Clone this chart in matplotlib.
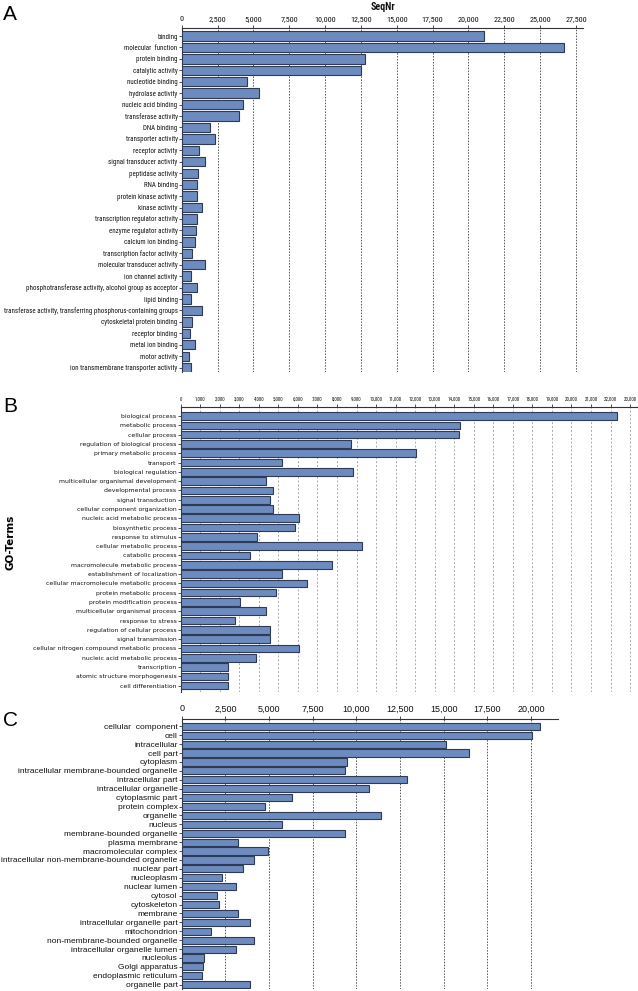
import os
import matplotlib
matplotlib.use("Agg")
import matplotlib.pyplot as plt
from matplotlib.ticker import FixedLocator, FuncFormatter
from matplotlib import font_manager
from matplotlib.font_manager import FontProperties
from matplotlib.textpath import TextPath

# ---------------- data ----------------
mf_terms = ["binding", "molecular  function", "protein binding", "catalytic activity",
            "nucleotide binding", "hydrolase activity", "nucleic acid binding",
            "transferase activity", "DNA binding", "transporter activity",
            "receptor activity", "signal transducer activity", "peptidase activity",
            "RNA binding", "protein kinase activity", "kinase activity",
            "transcription regulator activity", "enzyme regulator activity",
            "calcium ion binding", "transcription factor activity",
            "molecular transducer activity", "ion channel activity",
            "phosphotransferase activity, alcohol group as acceptor", "lipid binding",
            "transferase activity, transferring phosphorus-containing groups",
            "cytoskeletal protein binding", "receptor binding", "metal ion binding",
            "motor activity", "ion transmembrane transporter activity"]
mf_values = [21100, 26640, 12760, 12480, 4580, 5370, 4250, 3975, 1975, 2300,
             1185, 1600, 1140, 1040, 1040, 1410, 1090, 1000, 900, 740,
             1600, 650, 1040, 625, 1410, 695, 600, 900, 510, 670]

bp_terms = ["biological process", "metabolic process", "cellular process",
            "regulation of biological process", "primary metabolic process",
            "transport", "biological regulation", "multicellular organismal development",
            "developmental process", "signal transduction",
            "cellular component organization", "nucleic acid metabolic process",
            "biosynthetic process", "response to stimulus", "cellular metabolic process",
            "catabolic process", "macromolecule metabolic process",
            "establishment of localization", "cellular macromolecule metabolic process",
            "protein metabolic process", "protein modification process",
            "multicellular organismal process", "response to stress",
            "regulation of cellular process", "signal transmission",
            "cellular nitrogen compound metabolic process",
            "nucleic acid metabolic process", "transcription",
            "atomic structure morphogenesis", "cell differentiation"]
bp_values = [22320, 14280, 14250, 8720, 12045, 5185, 8820, 4367, 4725, 4555,
             4725, 6070, 5835, 3890, 9265, 3548, 7745, 5185, 6480, 4880,
             3052, 4367, 2764, 4555, 4555, 6070, 3840, 2420, 2420, 2400]

cc_terms = ["cellular  component", "cell", "intracellular", "cell part", "cytoplasm",
            "intracellular membrane-bounded organelle", "intracellular part",
            "intracellular organelle", "cytoplasmic part", "protein complex",
            "organelle", "nucleus", "membrane-bounded organelle", "plasma membrane",
            "macromolecular complex", "intracellular non-membrane-bounded organelle",
            "nuclear part", "nucleoplasm", "nuclear lumen", "cytosol", "cytoskeleton",
            "membrane", "intracellular organelle part", "mitochondrion",
            "non-membrane-bounded organelle", "intracellular organelle lumen",
            "nucleolus", "Golgi apparatus", "endoplasmic reticulum", "organelle part"]
cc_values = [20520, 20060, 15115, 16470, 9450, 9370, 12900, 10725, 6300, 4770,
             11410, 5725, 9350, 3225, 4925, 4140, 3490, 2290, 3090, 2040, 2155,
             3225, 3910, 1660, 4140, 3090, 1295, 1240, 1160, 3910]

mf_ticks = list(range(0, 27501, 2500))
bp_ticks = list(range(0, 23001, 1000))
cc_ticks = list(range(0, 20001, 2500))

# ---------------- fonts ----------------
_files = set(font_manager.findSystemFonts()) | {f.fname for f in font_manager.fontManager.ttflist}
_base = {}
for _f in _files:
    _base.setdefault(os.path.basename(_f).lower(), _f)


def pick(prefixes):
    for p in prefixes:
        for b in sorted(_base):
            if b.startswith(p) and "italic" not in b:
                return _base[b]
    return None


cond_file = pick(["liberationsansnarrow-regular", "robotocondensed-regular",
                  "robotocondensed[", "archivonarrow-regular", "archivonarrow[",
                  "ptsansnarrow-regular", "pt_sans-narrow-web-regular",
                  "pragatinarrow-regular", "firasanscondensed-regular",
                  "ibmplexsanscondensed-regular", "barlowcondensed-regular"])
cond_bold_file = pick(["liberationsansnarrow-bold.", "robotocondensed-bold.",
                       "archivonarrow-bold.", "ptsansnarrow-bold", "pt_sans-narrow-web-bold",
                       "pragatinarrow-bold", "firasanscondensed-bold.",
                       "ibmplexsanscondensed-bold.", "barlowcondensed-bold."])

COND = FontProperties(fname=cond_file) if cond_file else FontProperties(family="Liberation Sans")
if cond_bold_file:
    COND_B = FontProperties(fname=cond_bold_file)
else:
    COND_B = FontProperties(family="Liberation Sans", weight="bold")
SANS = FontProperties(family="Liberation Sans")
WIDE = FontProperties(family="DejaVu Sans")


def fit_size(text, prop, target_px, dpi=100):
    tp = TextPath((0, 0), text, size=10, prop=prop)
    w = tp.get_extents().width * dpi / 72.0
    return 10.0 * target_px / w


# ---------------- figure ----------------
W, H = 638, 991
fig = plt.figure(figsize=(W / 100, H / 100), dpi=100)

BAR_FC = "#6d8bbf"
BAR_EC = "#2f3b55"


def fig_axes(left, top, right, bottom):
    return fig.add_axes([left / W, 1 - bottom / H, (right - left) / W, (bottom - top) / H])


def panel(ax, terms, values, ticks, xmax, ylim, lab_prop, lab_size, tick_prop, tick_size,
          grid_style, grid_color, height):
    y = list(range(len(terms)))
    ax.barh(y, values, height=height, color=BAR_FC, edgecolor=BAR_EC, linewidth=0.8, zorder=3)
    ax.set_xlim(0, xmax)
    ax.set_ylim(*ylim)
    ax.xaxis.tick_top()
    ax.xaxis.set_major_locator(FixedLocator(ticks))
    ax.xaxis.set_major_formatter(FuncFormatter(lambda v, p: f"{int(v):,}"))
    ax.set_yticks(y)
    ax.set_yticklabels(terms)
    lp = lab_prop.copy()
    lp.set_size(lab_size)
    tp = tick_prop.copy()
    tp.set_size(tick_size)
    for lbl in ax.get_yticklabels():
        lbl.set_fontproperties(lp)
        lbl.set_color("#111111")
    for lbl in ax.get_xticklabels():
        lbl.set_fontproperties(tp)
        lbl.set_color("#111111")
    ax.tick_params(axis="y", length=2, width=0.6, pad=1, color="#333333")
    ax.tick_params(axis="x", length=2, width=0.6, pad=2, color="#333333")
    for s in ["right", "bottom"]:
        ax.spines[s].set_visible(False)
    for s in ["top", "left"]:
        ax.spines[s].set_linewidth(0.8)
        ax.spines[s].set_color("#333333")
    for t in ticks[1:]:
        ax.axvline(t, color=grid_color, linestyle=grid_style, linewidth=0.7, zorder=1)
    ax.set_facecolor("white")


# Panel A (longest label spans ~170 px in the reference)
a_size = min(6.0, fit_size(mf_terms[24], COND, 170))
a_tick = min(6.2, fit_size("27,500", COND, 21))
axA = fig_axes(181.7, 28, 582.7, 372)
panel(axA, mf_terms, mf_values, mf_ticks, 27966, (29.38, -0.70),
      COND, a_size, COND, a_tick, (0, (1.5, 1.5)), "#555555", 0.82)
tprop = COND_B.copy()
tprop.set_size(7.2)
fig.text(383 / W, 1 - 7 / H, "SeqNr", fontproperties=tprop, ha="center", va="center",
         color="#111111")

# Panel B
b_size = fit_size(bp_terms[25], WIDE, 142)
b_tick = min(4.5, fit_size("23,000", COND, 13))
axB = fig_axes(180.7, 407.3, 636.7, 691.7)
panel(axB, bp_terms, bp_values, bp_ticks, 23340, (29.65, -0.94),
      WIDE, b_size, COND, b_tick, (0, (2, 2)), "#aaaaaa", 0.82)

# Panel C
c_size = fit_size(cc_terms[15], SANS, 172)
axC = fig_axes(181.7, 719, 558, 989)
panel(axC, cc_terms, cc_values, cc_ticks, 21550, (29.48, -0.82),
      SANS, c_size, SANS, 6.5, (0, (1.5, 1.5)), "#555555", 0.8)

# panel letters and axis label
for letter, yc in [("A", 14), ("B", 407), ("C", 720)]:
    fig.text(3 / W, 1 - yc / H, letter, fontsize=15, family="Liberation Sans",
             va="center", ha="left")
fig.text(11 / W, 1 - 542 / H, "GO-Terms", fontsize=7.5, fontweight="bold", rotation=90,
         va="center", ha="center", family="DejaVu Sans")

fig.savefig("out.png", dpi=100, facecolor="white")
